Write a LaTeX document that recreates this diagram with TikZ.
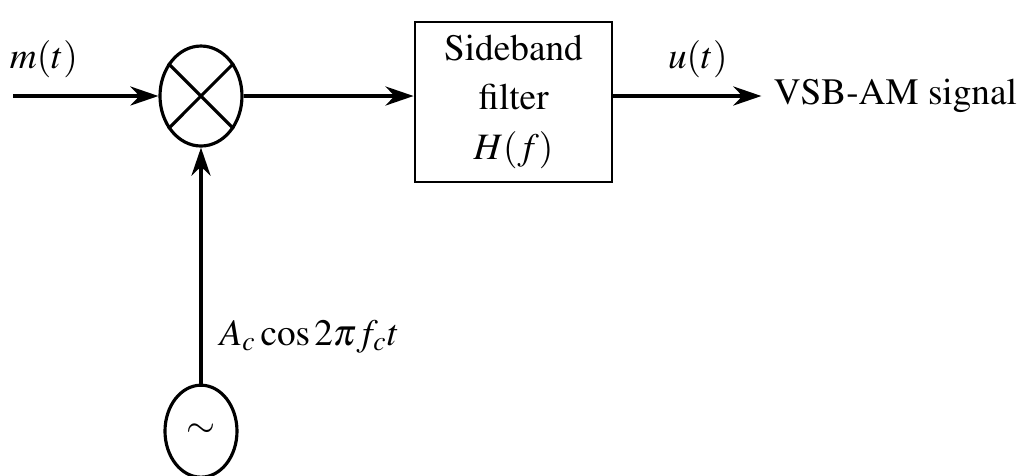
\documentclass[tikz,border=0pt]{standalone}
\usepackage[T1]{fontenc}
\usepackage{mathptmx}
\usetikzlibrary{positioning,arrows.meta,shapes.geometric}

\tikzset{
  sig/.style={-{Stealth[length=2.8mm,width=1.9mm,inset=0.9mm]},line width=1.1pt},
  blk/.style={draw,line width=0.8pt,align=center,minimum width=19.7mm,minimum height=16mm},
  rnd/.style={draw,ellipse,line width=0.9pt,inner sep=0pt},
  every node/.style={font=\fontsize{10.6}{14.2}\selectfont}
}

\begin{document}
\begin{tikzpicture}
  \useasboundingbox (-2.01,-3.79) rectangle (8.23,0.96);

  \node[rnd,minimum width=8.2mm,minimum height=10mm] (mix) at (0,0) {};
  \draw[line width=0.9pt] (mix.45) -- (mix.225) (mix.135) -- (mix.-45);
  \node[blk,right=17mm of mix,yshift=-0.6mm] (filt) {Sideband\\filter\\$H(f)$};
  \node[right=14.8mm of filt,yshift=0.6mm] (out) {VSB-AM signal};
  \node[rnd,minimum width=7.2mm,minimum height=9.2mm,below=23.6mm of mix] (osc) {$\sim$};
  \coordinate[left=14.5mm of mix] (in);

  \draw[sig] (in) -- node[above=0.5mm,pos=0.21] {$m(t)$} (mix);
  \draw[sig] (mix) -- (mix -| filt.west);
  \draw[sig] (filt.east |- mix) -- node[above=0.5mm,pos=0.57] {$u(t)$} (out);
  \draw[sig] (osc) -- node[right=0.5mm,pos=0.2] {$A_c\cos 2\pi f_c t$} (mix);
\end{tikzpicture}
\end{document}
